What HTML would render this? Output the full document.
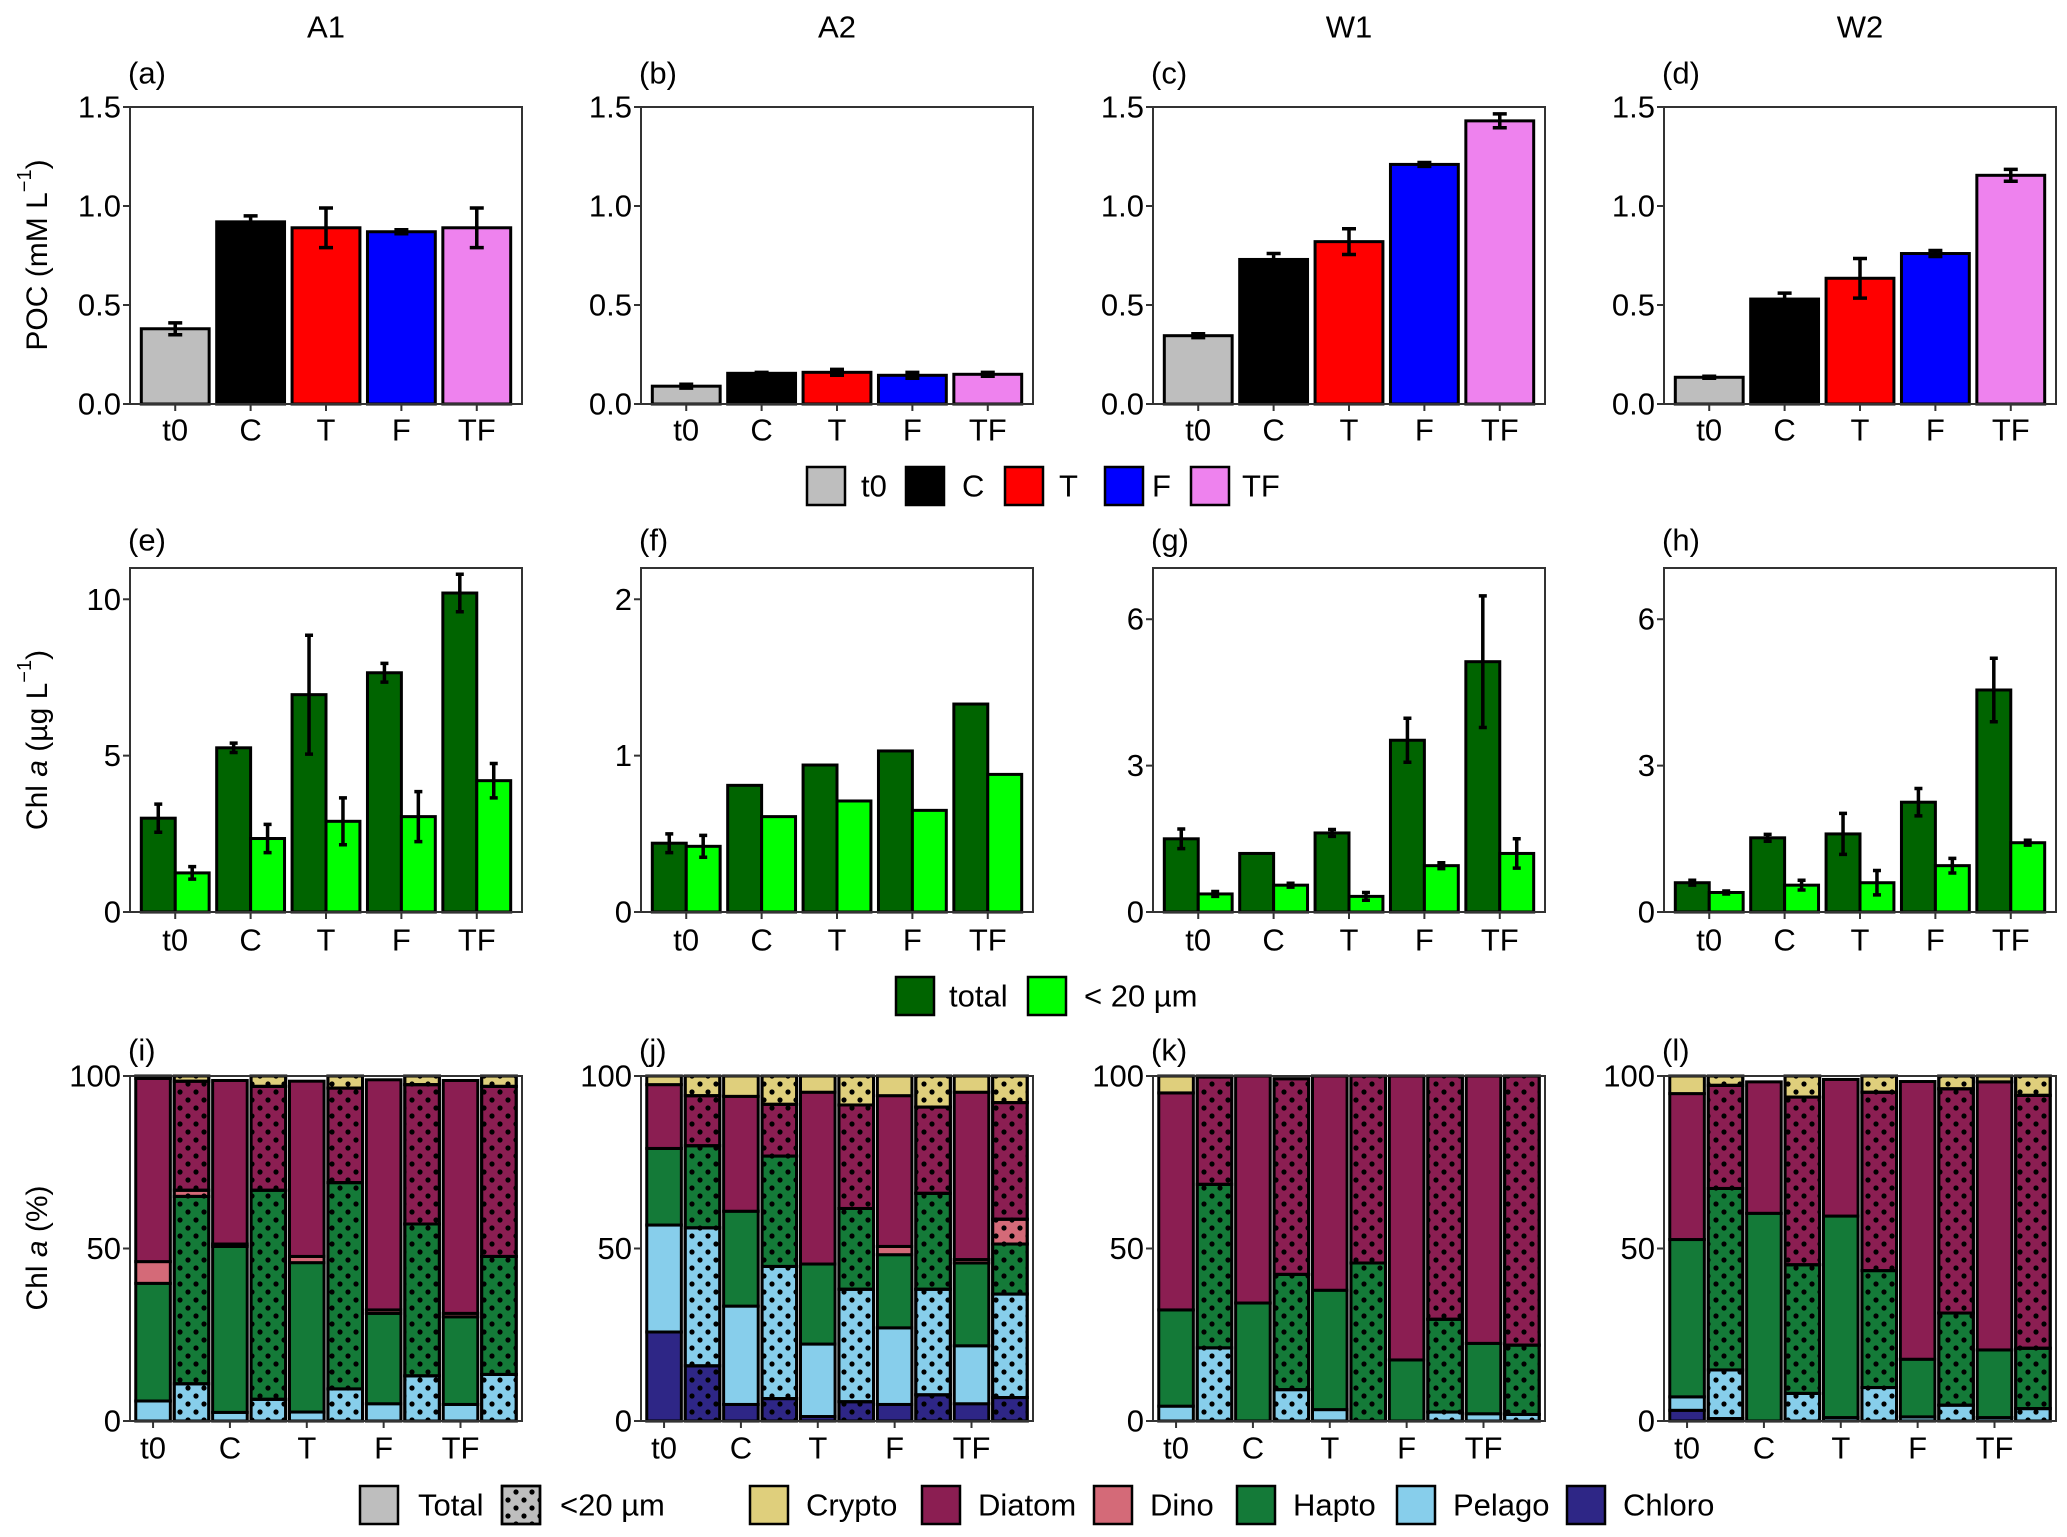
<!DOCTYPE html>
<html><head><meta charset="utf-8"><style>
html,body{margin:0;padding:0;background:#fff;}
svg{display:block;}
text{font-family:"Liberation Sans Narrow","Liberation Sans",sans-serif;fill:#000;}
.t{font-size:31px;}
.ax{font-family:"Liberation Sans",sans-serif;font-size:30px;}
</style></head><body>
<svg id="fig" width="2067" height="1537" viewBox="0 0 2067 1537" xmlns="http://www.w3.org/2000/svg">
<defs>
<pattern id="dots" patternUnits="userSpaceOnUse" width="16" height="16">
<circle cx="4" cy="4" r="2.6" fill="#000"/><circle cx="12" cy="12" r="2.6" fill="#000"/>
</pattern>
</defs>
<g id="root"></g>
</svg>
<script>
// ---------- data ----------
const treatments = ["t0","C","T","F","TF"];
const sites = ["A1","A2","W1","W2"];
const panelTags1 = ["(a)","(b)","(c)","(d)"];
const panelTags2 = ["(e)","(f)","(g)","(h)"];
const panelTags3 = ["(i)","(j)","(k)","(l)"];
// POC
const pocA1 = [0.38,0.92,0.89,0.87,0.89];
const pocA1err = [0.03,0.03,0.1,0.01,0.1];
const pocA2 = [0.09,0.155,0.16,0.145,0.15];
const pocA2err = [0.01,0.005,0.015,0.015,0.01];
const pocW1 = [0.345,0.73,0.82,1.21,1.43];
const pocW1err = [0.01,0.03,0.065,0.01,0.035];
const pocW2 = [0.135,0.53,0.635,0.76,1.155];
const pocW2err = [0.005,0.03,0.1,0.015,0.03];
const pocTicks = [0.0,0.5,1.0,1.5];
const pocTickLabels = ["0.0","0.5","1.0","1.5"];
// Chl a total / <20
const chlTotA1 = [3.0,5.25,6.95,7.65,10.2];
const chlTotA1err = [0.45,0.15,1.9,0.3,0.6];
const chlSmA1 = [1.25,2.35,2.9,3.05,4.2];
const chlSmA1err = [0.2,0.45,0.75,0.8,0.55];
const chlTotA2 = [0.44,0.81,0.94,1.03,1.33];
const chlTotA2err = [0.06,0,0,0,0];
const chlSmA2 = [0.42,0.61,0.71,0.65,0.88];
const chlSmA2err = [0.07,0,0,0,0];
const chlTotW1 = [1.5,1.2,1.62,3.52,5.13];
const chlTotW1err = [0.2,0,0.07,0.45,1.35];
const chlSmW1 = [0.37,0.55,0.32,0.95,1.2];
const chlSmW1err = [0.05,0.04,0.08,0.06,0.3];
const chlTotW2 = [0.6,1.52,1.6,2.25,4.55];
const chlTotW2err = [0.05,0.07,0.42,0.28,0.65];
const chlSmW2 = [0.4,0.55,0.6,0.95,1.42];
const chlSmW2err = [0.03,0.1,0.25,0.15,0.05];
const chlMax = [11.0,2.2,7.05,7.05];
const chlTicksA1 = [0,5,10];
const chlTicksA2 = [0,1,2];
const chlTicksW = [0,3,6];
// Pigment composition (%) bars: t0 total, t0 <20, C total, C <20, ...
const groups = ["Chloro","Pelago","Hapto","Dino","Diatom","Crypto"];
const pctTicks = [0,50,100];
const A1chloro = [0,0,0,0,0,0,0,0,0,0];
const A1pelago = [5.8,10.8,2.5,6.3,2.6,9.3,5,13.1,4.8,13.5];
const A1hapto  = [34.1,54.3,48.1,60.6,43.3,59.8,26.2,44,25.4,34.2];
const A1dino   = [6.3,1.8,0.7,0,1.8,0,1,0,1,0];
const A1diatom = [53.1,31.6,47.4,30.1,50.8,27.4,66.7,40.4,67.5,49.3];
const A1crypto = [0.7,1.5,0,3,0,3.5,0,2.5,0,3];
const A2chloro = [25.8,16,4.8,6.5,1.3,5.6,4.8,7.6,5,6.8];
const A2pelago = [31,40,28.5,38.3,21,32.6,22.2,30.6,16.8,30];
const A2hapto  = [22.2,23.8,27.5,32,23.2,23.4,21.2,27.8,24,14.5];
const A2dino   = [0,0,0,0,0,0,2.4,0,1,7.2];
const A2diatom = [18.5,14.5,33.3,15,49.8,30,43.7,25,48.5,33.8];
const A2crypto = [2.5,5.7,5.9,8.2,4.7,8.4,5.7,9,4.7,7.7];
const W1chloro = [0,0,0,0,0,0,0,0,0,0];
const W1pelago = [4.3,21.2,0,9.1,3.3,0,0,2.6,2.1,1.9];
const W1hapto  = [27.9,47.4,34.2,33.4,34.6,45.8,17.7,26.9,20.4,20.1];
const W1dino   = [0,0,0,0,0,0,0,0,0,0];
const W1diatom = [62.9,31.1,65.8,56.7,62.1,54.2,82.3,70.5,77.5,78];
const W1crypto = [4.9,0.3,0,0,0,0,0,0,0,0];
const W2chloro = [3.1,0.7,0,0,0,0,0,0,0,0];
const W2pelago = [3.9,14.1,0,8,1,9.7,1.2,4.6,1,3.6];
const W2hapto  = [45.6,52.6,60.2,37.3,58.4,33.9,16.7,26.7,19.6,17.5];
const W2dino   = [0,0,0,0,0,0,0,0,0,0];
const W2diatom = [42.3,29.9,38.1,48.6,39.6,51.7,80.5,65,77.7,73.3];
const W2crypto = [5.1,2.7,0,6.1,0,4.7,0,3.7,1.7,5.6];

// ---------- styling / layout ----------
const pocSets = [[pocA1,pocA1err],[pocA2,pocA2err],[pocW1,pocW1err],[pocW2,pocW2err]];
const chlSets = [[chlTotA1,chlTotA1err,chlSmA1,chlSmA1err],[chlTotA2,chlTotA2err,chlSmA2,chlSmA2err],[chlTotW1,chlTotW1err,chlSmW1,chlSmW1err],[chlTotW2,chlTotW2err,chlSmW2,chlSmW2err]];
const chlTickSets = [chlTicksA1,chlTicksA2,chlTicksW,chlTicksW];
const pctSets = [[A1chloro,A1pelago,A1hapto,A1dino,A1diatom,A1crypto],[A2chloro,A2pelago,A2hapto,A2dino,A2diatom,A2crypto],[W1chloro,W1pelago,W1hapto,W1dino,W1diatom,W1crypto],[W2chloro,W2pelago,W2hapto,W2dino,W2diatom,W2crypto]];
const trtCol = {"t0":"#bebebe","C":"#000000","T":"#ff0000","F":"#0000ff","TF":"#ee82ee"};
const grpCol = {"Chloro":"#2e2686","Pelago":"#87ceeb","Hapto":"#147a38","Dino":"#d46a78","Diatom":"#8b1e52","Crypto":"#dfcf7c"};
const panelX = [130,641,1153,1664];
const panelW = 392;
const rows = [{top:107,bot:404},{top:568,bot:912},{top:1076,bot:1421}];
const NS = "http://www.w3.org/2000/svg";
const root = document.getElementById("root");
function el(tag, attrs, parent){const e=document.createElementNS(NS,tag);for(const k in attrs)e.setAttribute(k,attrs[k]);(parent||root).appendChild(e);return e;}
function txt(x,y,s,cls,anchor,parent){const t=el("text",{x:x,y:y,class:cls,"text-anchor":anchor||"middle","dominant-baseline":"central"},parent);t.textContent=s;return t;}

function frame(g,x0,row){
  const r=el("rect",{x:x0,y:row.top,width:panelW,height:row.bot-row.top,fill:"none",stroke:"#333",'stroke-width':2},g);
  
  
}
function yAxis(g,x0,row,ticks,labels,ymax){
  const ys=v=>row.bot-(v/ymax)*(row.bot-row.top);
  ticks.forEach((v,i)=>{
    const l=el("line",{x1:x0-7,x2:x0,y1:ys(v),y2:ys(v),stroke:"#333",'stroke-width':2},g);
    
    
    const t=txt(x0-9,ys(v),labels[i],"t","end",g);
    
    
  });
}
function xLabels(g,xs,row,labels,y){
  labels.forEach((s,i)=>{
    const l=el("line",{x1:xs[i],x2:xs[i],y1:row.bot,y2:row.bot+7,stroke:"#333",'stroke-width':2},g);
    
    
    const t=txt(xs[i],y,s,"t","middle",g);
    
    
  });
}
function errbar(g,x,y1,y2,cap){
  const p=el("path",{d:`M${x-cap},${y1}H${x+cap}M${x},${y1}V${y2}M${x-cap},${y2}H${x+cap}`,stroke:"#000",'stroke-width':3.5,fill:"none"},g);
  
  
}

// titles
sites.forEach((s,i)=>{const t=txt(panelX[i]+panelW/2,27,s,"t");});

// Row 1: POC
pocSets.forEach((set,p)=>{
  const g=el("g",{});
  
  
  const x0=panelX[p],row=rows[0],ymax=1.5;
  const unit=panelW/5.2;
  const xs=treatments.map((_,i)=>x0+(i+0.6)*unit);
  const ys=v=>row.bot-(v/ymax)*(row.bot-row.top);
  const tag=txt(x0-2,73,panelTags1[p],"t","start",g);
  
  
  set[0].forEach((v,i)=>{
    const b=el("rect",{x:xs[i]-0.45*unit,y:ys(v),width:0.9*unit,height:row.bot-ys(v),fill:trtCol[treatments[i]],stroke:"#000",'stroke-width':3},g);
    
    
    errbar(g,xs[i],ys(v+set[1][i]),ys(v-set[1][i]),7);
  });
  frame(g,x0,row);
  yAxis(g,x0,row,pocTicks,pocTickLabels,ymax);
  xLabels(g,xs,row,treatments,430);
});
// Row 2: Chl a
chlSets.forEach((set,p)=>{
  const g=el("g",{});
  
  
  const x0=panelX[p],row=rows[1],ymax=chlMax[p];
  const unit=panelW/5.2;
  const xs=treatments.map((_,i)=>x0+(i+0.6)*unit);
  const ys=v=>row.bot-(v/ymax)*(row.bot-row.top);
  const tag=txt(x0-2,540,panelTags2[p],"t","start",g);
  
  
  treatments.forEach((tr,i)=>{
    [[set[0],set[1],"#006400",-1,"total"],[set[2],set[3],"#00ff00",1,"small"]].forEach(([vals,errs,col,side,nm])=>{
      const v=vals[i],cx=xs[i]+side*0.225*unit;
      const b=el("rect",{x:cx-0.225*unit,y:ys(v),width:0.45*unit,height:row.bot-ys(v),fill:col,stroke:"#000",'stroke-width':3},g);
      
      
      if(errs[i]>0) errbar(g,cx,ys(v+errs[i]),ys(v-errs[i]),4);
    });
  });
  frame(g,x0,row);
  const tk=chlTickSets[p];
  yAxis(g,x0,row,tk,tk.map(String),ymax);
  xLabels(g,xs,row,treatments,940);
});
// Row 3: composition
pctSets.forEach((set,p)=>{
  const g=el("g",{});
  
  
  const x0=panelX[p],row=rows[2],ymax=100;
  const unit=panelW/10.2;
  const ys=v=>row.bot-(v/ymax)*(row.bot-row.top);
  const tag=txt(x0-2,1050,panelTags3[p],"t","start",g);
  
  
  const xs=[];
  for(let b=0;b<10;b++){
    const cx=x0+(b+0.6)*unit; xs.push(cx);
    let cum=0;
    groups.forEach((gr,k)=>{
      const v=set[k][b]; if(v<=0) return;
      const y1=ys(cum+v),y2=ys(cum);
      const r=el("rect",{x:cx-0.45*unit,y:y1,width:0.9*unit,height:y2-y1,fill:grpCol[gr],stroke:"#000",'stroke-width':3},g);
      
      
      if(b%2===1){
        const d=el("rect",{x:cx-0.45*unit,y:y1,width:0.9*unit,height:y2-y1,fill:"url(#dots)",stroke:"#000",'stroke-width':3},g);
        
        
      }
      cum+=v;
    });
  }
  frame(g,x0,row);
  yAxis(g,x0,row,pctTicks,pctTicks.map(String),ymax);
  xLabels(g,[0,2,4,6,8].map(i=>xs[i]),row,treatments,1448);
});

// y axis titles
function ytitle(y,parts,name){
  const t=el("text",{x:0,y:0,class:"ax","text-anchor":"middle","dominant-baseline":"central",transform:`translate(37,${y}) rotate(-90)`});
  
  
  parts.forEach(([s,st])=>{const ts=el("tspan",st||{},t);ts.textContent=s;});
}
ytitle(255,[["POC (mM L"],["−1",{dy:"-12","font-size":"20"}],[")",{dy:"12"}]],"y-axis-title-poc");
ytitle(740,[["Chl "],["a",{"font-style":"italic"}],[" (µg L"],["−1",{dy:"-12","font-size":"20"}],[")",{dy:"12"}]],"y-axis-title-chl");
ytitle(1248,[["Chl "],["a",{"font-style":"italic"}],[" (%)"]],"y-axis-title-pct");

// legends
function legBox(x,y,fill,name,label,lx,dots){
  const r=el("rect",{x:x,y:y-19,width:38,height:38,fill:fill,stroke:"#000",'stroke-width':2.5});
  
  
  if(dots){const d=el("rect",{x:x,y:y-19,width:38,height:38,fill:"url(#dots)",stroke:"#000",'stroke-width':2.5});}
  const t=txt(lx,y,label,"t","start");
  
  
}
const leg1x=[807,906,1005,1105,1191], leg1lx=[861,962,1059,1152,1242];
treatments.forEach((tr,i)=>legBox(leg1x[i],486,trtCol[tr],'legend-'+tr.toLowerCase(),tr,leg1lx[i]));
legBox(896,996,"#006400","legend-total","total",949);
legBox(1028,996,"#00ff00","legend-small","< 20 µm",1084);
legBox(360,1505,"#bebebe","legend-total-fraction","Total",418);
legBox(502,1505,"#bebebe","legend-small-fraction","<20 µm",560,true);
const leg3Groups=["Crypto","Diatom","Dino","Hapto","Pelago","Chloro"];
const leg3x=[750,922,1094,1237,1397,1567];
leg3Groups.forEach((gr,i)=>legBox(leg3x[i],1505,grpCol[gr],'legend-'+gr.toLowerCase(),gr,leg3x[i]+56));
</script>
</body></html>
